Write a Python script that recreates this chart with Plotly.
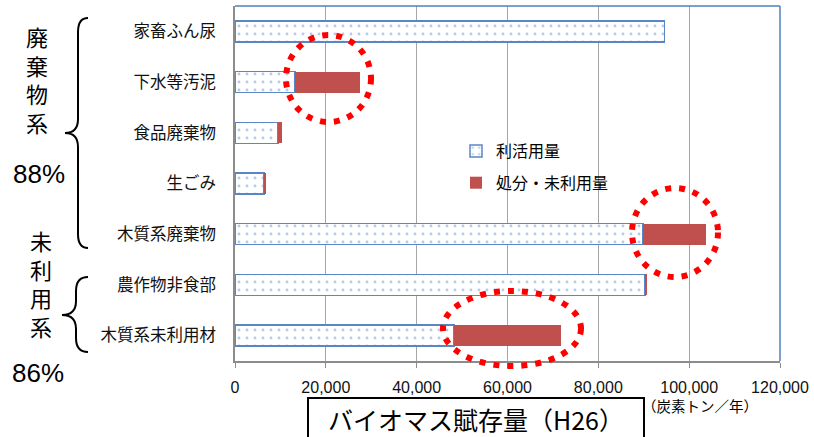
import plotly.graph_objects as go

# ---------------- data ----------------
categories = ["家畜ふん尿", "下水等汚泥", "食品廃棄物", "生ごみ", "木質系廃棄物", "農作物非食部", "木質系未利用材"]
utilized = [94600, 13200, 9500, 6400, 89800, 90300, 48200]
unused = [0, 14400, 750, 380, 13800, 350, 23500]
series_names = ["利活用量", "処分・未利用量"]
x_ticks = [0, 20000, 40000, 60000, 80000, 100000, 120000]
x_tick_text = ["0", "20,000", "40,000", "60,000", "80,000", "100,000", "120,000"]
group_labels = [("廃棄物系", "88%"), ("未利用系", "86%")]
unit_label = "（炭素トン／年）"
title_box = "バイオマス賦存量（H26）"

W, H = 814, 437
L, R, T, B = 235, 780, 6, 361


def px(x):
    return (x - L) / (R - L)


def py(y):
    return (B - y) / (B - T)


JP = "Noto Sans CJK JP, Noto Sans, sans-serif"
NUM = "Liberation Sans, Arial, sans-serif"
NARROW = "Liberation Sans Narrow, Arial Narrow, Liberation Sans, sans-serif"

fig = go.Figure()
fig.add_trace(go.Bar(
    y=categories, x=utilized, orientation="h", name=series_names[0],
    legendgroup="a",
    marker=dict(color="white", line=dict(color="#5B86C5", width=1.5),
                pattern=dict(shape=".", fgcolor="#6A96D4", bgcolor="white",
                             size=8, solidity=0.1)),
))
fig.add_trace(go.Bar(
    y=categories, x=unused, orientation="h", name=series_names[1],
    legendgroup="b",
    marker=dict(color="#C0504D", line=dict(color="#C0504D", width=0)),
))

shapes = []
# plot border top/right (blue)
shapes.append(dict(type="line", xref="paper", yref="paper", x0=0, x1=1, y0=1, y1=1,
                   line=dict(color="#4F81BD", width=1.5)))
shapes.append(dict(type="line", xref="paper", yref="paper", x0=1, x1=1, y0=0, y1=1,
                   line=dict(color="#4F81BD", width=1.5)))

# red dotted highlight circles (pixel extents)
circles = [(286, 35, 371, 122), (632, 188, 718, 277), (443, 291, 581, 366)]
for (x0, y0, x1, y1) in circles:
    shapes.append(dict(type="circle", xref="paper", yref="paper",
                       x0=px(x0), x1=px(x1), y0=py(y1), y1=py(y0),
                       line=dict(color="#FF0000", width=6, dash="6px,8px"),
                       layer="above"))


def brace(xr, xl, xt, ytop, ymid, ybot):
    pts = lambda x, y: f"{px(x):.5f},{py(y):.5f}"
    r = 14
    d = (f"M {pts(xr, ytop)} Q {pts(xt, ytop)} {pts(xt, ytop + r)} "
         f"L {pts(xt, ymid - r)} Q {pts(xt, ymid)} {pts(xl, ymid)} "
         f"Q {pts(xt, ymid)} {pts(xt, ymid + r)} "
         f"L {pts(xt, ybot - r)} Q {pts(xt, ybot)} {pts(xr, ybot)}")
    return dict(type="path", xref="paper", yref="paper", path=d,
                line=dict(color="black", width=2))


shapes.append(brace(88, 65, 78, 18, 133, 248))
shapes.append(brace(88, 62, 76, 277, 315, 352))

annotations = []
# vertical group labels
annotations.append(dict(xref="paper", yref="paper", x=px(37), y=py(79),
                        text="<br>".join(group_labels[0][0]), showarrow=False,
                        font=dict(family=JP, size=22, color="black"),
                        xanchor="center", yanchor="middle"))
annotations.append(dict(xref="paper", yref="paper", x=px(39), y=py(174), text=group_labels[0][1],
                        showarrow=False, font=dict(family=NARROW, size=26, color="black"),
                        xanchor="center", yanchor="middle"))
annotations.append(dict(xref="paper", yref="paper", x=px(41), y=py(283),
                        text="<br>".join(group_labels[1][0]), showarrow=False,
                        font=dict(family=JP, size=22, color="black"),
                        xanchor="center", yanchor="middle"))
annotations.append(dict(xref="paper", yref="paper", x=px(38), y=py(373), text=group_labels[1][1],
                        showarrow=False, font=dict(family=NARROW, size=26, color="black"),
                        xanchor="center", yanchor="middle"))
# unit label
annotations.append(dict(xref="paper", yref="paper", x=px(760), y=py(405), text=unit_label,
                        showarrow=False, font=dict(family=JP, size=14.5, color="black"),
                        xanchor="right", yanchor="middle"))
# title box (drawn after unit label so it covers it)
annotations.append(dict(xref="paper", yref="paper", x=px(307), y=py(397), text=title_box,
                        showarrow=False, font=dict(family=JP, size=25, color="black"),
                        xanchor="left", yanchor="top", width=330, height=56,
                        align="center", valign="top",
                        bgcolor="white", bordercolor="black", borderwidth=2, borderpad=2))

fig.update_layout(
    width=W, height=H,
    margin=dict(l=L, r=W - R, t=T, b=H - B, autoexpand=False),
    paper_bgcolor="white", plot_bgcolor="white",
    barmode="stack", bargap=0.585,
    font=dict(family=JP, color="black"),
    showlegend=True,
    legend=dict(x=px(456), y=py(134), xanchor="left", yanchor="top",
                traceorder="grouped", tracegroupgap=8,
                font=dict(family=JP, size=16, color="black"),
                bgcolor="rgba(0,0,0,0)"),
    shapes=shapes, annotations=annotations,
)
fig.update_xaxes(range=[0, 120000], tickvals=x_ticks, ticktext=x_tick_text,
                 showgrid=True, gridcolor="#A6A6A6", gridwidth=1.2,
                 showline=True, linecolor="#8C8C8C", linewidth=1.5,
                 ticks="outside", ticklen=5, tickcolor="#8C8C8C",
                 ticklabelstandoff=6,
                 tickfont=dict(family=NUM, size=16, color="#111"),
                 zeroline=False, fixedrange=True)
fig.update_yaxes(categoryorder="array", categoryarray=categories, autorange="reversed",
                 showline=True, linecolor="#8C8C8C", linewidth=1.5,
                 showgrid=False, ticks="", ticklabelstandoff=14,
                 tickfont=dict(family=JP, size=16.5, color="#111"),
                 fixedrange=True)

fig.write_html("out.html")
